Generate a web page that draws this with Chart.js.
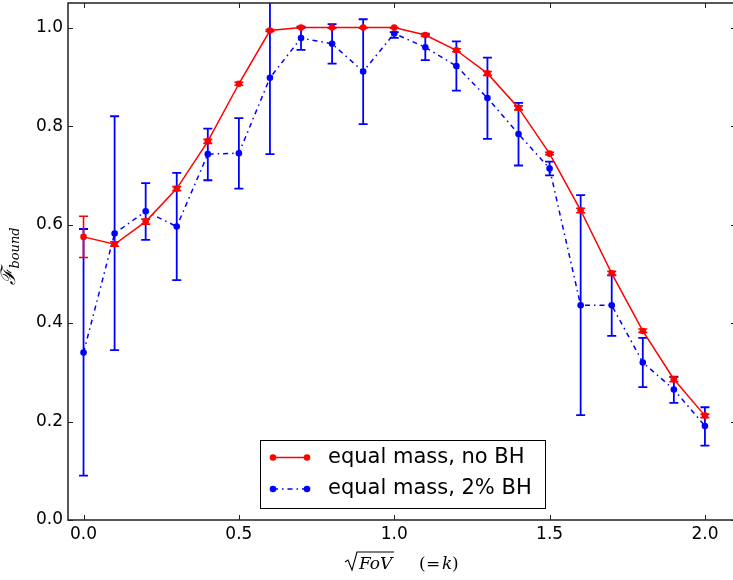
<!DOCTYPE html>
<html>
<head>
<meta charset="utf-8">
<script src="https://cdn.jsdelivr.net/npm/chart.js@4/dist/chart.umd.min.js"></script>
<style>
html,body{margin:0;padding:0;background:#fff;overflow:hidden;width:733px;height:580px;}
#wrap{position:absolute;left:0;top:0;width:736px;height:580px;}
</style>
</head>
<body>
<div id="wrap"><canvas id="c" width="736" height="580"></canvas></div>
<script>
// ---- data ----
const kValues = [0.0,0.1,0.2,0.3,0.4,0.5,0.6,0.7,0.8,0.9,1.0,1.1,1.2,1.3,1.4,1.5,1.6,1.7,1.8,1.9,2.0];
const noBH     = [0.575,0.560,0.606,0.673,0.769,0.886,0.994,1.000,1.000,1.000,1.000,0.985,0.954,0.907,0.837,0.744,0.629,0.501,0.384,0.286,0.212];
const noBHLow  = [0.533,0.556,0.601,0.669,0.765,0.883,0.992,0.999,0.999,0.999,0.999,0.982,0.951,0.903,0.833,0.742,0.624,0.497,0.381,0.281,0.208];
const noBHHigh = [0.617,0.565,0.611,0.677,0.773,0.889,0.996,1.000,1.000,1.000,1.000,0.988,0.957,0.911,0.841,0.747,0.633,0.505,0.388,0.290,0.215];
const bh2      = [0.340,0.582,0.627,0.596,0.743,0.745,0.898,0.979,0.967,0.911,0.988,0.960,0.922,0.857,0.784,0.714,0.436,0.436,0.320,0.265,0.191];
const bh2Low   = [0.090,0.345,0.569,0.487,0.690,0.673,0.743,0.955,0.927,0.804,0.979,0.934,0.872,0.774,0.720,0.700,0.213,0.374,0.270,0.238,0.151];
const bh2High  = [0.591,0.820,0.684,0.705,0.795,0.816,1.060,1.002,1.007,1.017,0.991,0.986,0.972,0.939,0.847,0.728,0.660,0.497,0.370,0.291,0.229];
const yTicks = [0.0,0.2,0.4,0.6,0.8,1.0];
const xTicks = [0.0,0.5,1.0,1.5,2.0];
const seriesLabels = ['equal mass, no BH','equal mass, 2% BH'];
const errLow = [noBHLow, bh2Low];
const errHigh = [noBHHigh, bh2High];

const RED = '#ff0000', BLUE = '#0000ff';
const BLUE_DASH = [5,4,1.5,4];

const errorBars = {
  id:'errorBars',
  beforeDatasetDraw(chart, args){
    const i = args.index;
    const ds = chart.data.datasets[i];
    const xs = chart.scales.x, ys = chart.scales.y, a = chart.chartArea;
    const ctx = chart.ctx;
    ctx.save();
    ctx.beginPath(); ctx.rect(a.left, a.top, a.right-a.left, a.bottom-a.top); ctx.clip();
    ctx.strokeStyle = ds.borderColor;
    ctx.lineWidth = i===1 ? 1.8 : 1.6;
    ds.data.forEach((p, j) => {
      const px = xs.getPixelForValue(p.x);
      const y1 = ys.getPixelForValue(errLow[i][j]);
      const y2 = ys.getPixelForValue(errHigh[i][j]);
      ctx.beginPath();
      ctx.moveTo(px, y1); ctx.lineTo(px, y2);
      ctx.moveTo(px-4.5, y1); ctx.lineTo(px+4.5, y1);
      ctx.moveTo(px-4.5, y2); ctx.lineTo(px+4.5, y2);
      ctx.stroke();
    });
    ctx.restore();
  }
};

const frame = {
  id:'frame',
  afterDraw(chart){
    const ctx = chart.ctx, a = chart.chartArea;
    const xs = chart.scales.x, ys = chart.scales.y;
    ctx.save();
    ctx.strokeStyle = '#222';
    ctx.lineWidth = 1;
    // inward ticks
    ctx.beginPath();
    xTicks.forEach(v => {
      const px = Math.round(xs.getPixelForValue(v)) + 0.5;
      ctx.moveTo(px, a.bottom); ctx.lineTo(px, a.bottom-5);
      ctx.moveTo(px, a.top); ctx.lineTo(px, a.top+5);
    });
    yTicks.forEach(v => {
      const py = Math.round(ys.getPixelForValue(v)) + 0.5;
      ctx.moveTo(a.left, py); ctx.lineTo(a.left+5, py);
      ctx.moveTo(a.right, py); ctx.lineTo(a.right-5, py);
    });
    ctx.stroke();
    ctx.lineWidth = 1.5;
    ctx.strokeRect(a.left, a.top, a.right-a.left, a.bottom-a.top);

    // legend
    const lx = 260.5, ly = 440.5, lw = 285, lh = 68;
    ctx.fillStyle = '#fff';
    ctx.fillRect(lx, ly, lw, lh);
    ctx.strokeStyle = '#000'; ctx.lineWidth = 1;
    ctx.strokeRect(lx, ly, lw, lh);
    const rows = [457.5, 489];
    const cols = [RED, BLUE];
    rows.forEach((ry, i) => {
      ctx.strokeStyle = cols[i]; ctx.lineWidth = 1.5;
      ctx.setLineDash(i===1 ? BLUE_DASH : []);
      ctx.beginPath(); ctx.moveTo(273, ry); ctx.lineTo(307, ry); ctx.stroke();
      ctx.setLineDash([]);
      ctx.fillStyle = cols[i];
      [273, 307].forEach(mx => { ctx.beginPath(); ctx.arc(mx, ry, 3.3, 0, Math.PI*2); ctx.fill(); });
      ctx.fillStyle = '#000';
      ctx.font = '21px "DejaVu Sans"';
      ctx.textAlign = 'left'; ctx.textBaseline = 'middle';
      ctx.fillText(seriesLabels[i], 328, ry);
    });

    // x axis title
    const cx = (a.left + a.right)/2;
    const base = 569;
    ctx.strokeStyle = '#000'; ctx.lineWidth = 1.1;
    ctx.beginPath();
    ctx.moveTo(cx-57, base-7); ctx.lineTo(cx-54, base-9);
    ctx.lineTo(cx-50, base+1); ctx.lineTo(cx-45, base-17);
    ctx.lineTo(cx-8, base-17);
    ctx.stroke();
    ctx.fillStyle = '#000';
    ctx.textBaseline = 'alphabetic'; ctx.textAlign = 'left';
    ctx.font = 'italic 17px "DejaVu Serif"';
    ctx.fillText('FoV', cx-43, base);
    ctx.font = '17px "DejaVu Serif"';
    ctx.fillText('(', cx+17, base);
    ctx.fillText('=', cx+24, base);
    ctx.font = 'italic 17px "DejaVu Serif"';
    ctx.fillText('k', cx+40, base);
    ctx.font = '17px "DejaVu Serif"';
    ctx.fillText(')', cx+50, base);

    // y axis title
    ctx.save();
    ctx.translate(15, 256);
    ctx.rotate(-Math.PI/2);
    ctx.font = 'italic 20px "DejaVu Serif"';
    const fw = ctx.measureText('\u2131').width;
    ctx.font = 'italic 13px "DejaVu Serif"';
    const bw = ctx.measureText('bound').width;
    const start = -(fw + bw)/2;
    ctx.font = 'italic 20px "DejaVu Serif"';
    ctx.fillText('\u2131', start, 0);
    ctx.font = 'italic 13px "DejaVu Serif"';
    ctx.fillText('bound', start + fw, 4);
    ctx.restore();
    ctx.restore();
  }
};

function zeroPad(s){ s.paddingTop = 0; s.paddingBottom = 0; s.paddingLeft = 0; s.paddingRight = 0; }

new Chart(document.getElementById('c'), {
  type:'line',
  data:{
    datasets:[
      {label:seriesLabels[0], data:kValues.map((k,i)=>({x:k,y:noBH[i]})),
       borderColor:RED, backgroundColor:RED, borderWidth:1.5, pointRadius:3.3, pointBorderWidth:0,
       pointBackgroundColor:RED, tension:0, fill:false},
      {label:seriesLabels[1], data:kValues.map((k,i)=>({x:k,y:bh2[i]})),
       borderColor:BLUE, backgroundColor:BLUE, borderWidth:1.5, borderDash:BLUE_DASH, pointRadius:3.3, pointBorderWidth:0,
       pointBackgroundColor:BLUE, tension:0, fill:false}
    ]
  },
  options:{
    responsive:false, animation:false, devicePixelRatio:1,
    layout:{autoPadding:false, padding:{top:3,right:0,left:0,bottom:0}},
    plugins:{legend:{display:false}, tooltip:{enabled:false}},
    scales:{
      x:{type:'linear', min:-0.05, max:2.1,
         afterFit(s){ s.height = 60; zeroPad(s); },
         afterBuildTicks(s){ s.ticks = xTicks.map(v=>({value:v})); },
         grid:{display:false, drawTicks:false}, border:{display:false},
         ticks:{padding:4, color:'#000', font:{family:'DejaVu Sans', size:17}, maxRotation:0, callback:v=>v.toFixed(1)}},
      y:{type:'linear', min:0, max:1.05,
         afterFit(s){ s.width = 68; zeroPad(s); },
         afterBuildTicks(s){ s.ticks = yTicks.map(v=>({value:v})); },
         grid:{display:false, drawTicks:false}, border:{display:false},
         ticks:{padding:5, color:'#000', font:{family:'DejaVu Sans', size:17}, callback:v=>v.toFixed(1)}}
    }
  },
  plugins:[errorBars, frame]
});
</script>
</body>
</html>
